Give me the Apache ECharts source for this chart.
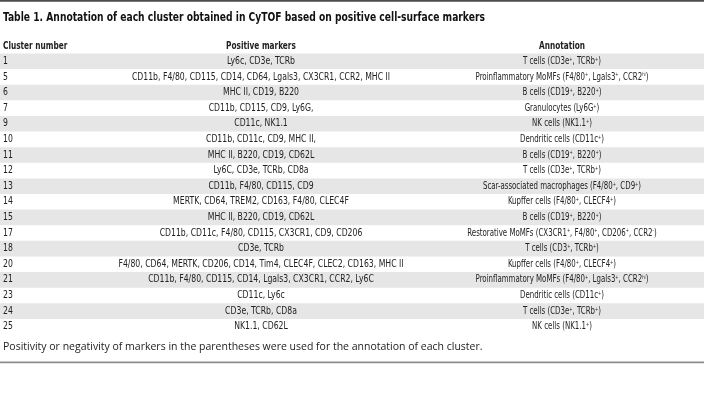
<!DOCTYPE html>
<html>
<head>
<meta charset="utf-8">
<script src="https://cdn.jsdelivr.net/npm/echarts@6/dist/echarts.min.js"></script>
<style>html,body{margin:0;padding:0;background:#fff}#c{width:704px;height:415px}</style>
</head>
<body>
<div id="c"></div>
<script>
const titleText = 'Table 1. Annotation of each cluster obtained in CyTOF based on positive cell-surface markers';
const headers = ['Cluster number', 'Positive markers', 'Annotation'];
const clusters = ['1','5','6','7','9','10','11','12','13','14','15','17','18','20','21','23','24','25'];
const markers = [
  'Ly6c, CD3e, TCRb',
  'CD11b, F4/80, CD115, CD14, CD64, Lgals3, CX3CR1, CCR2, MHC II',
  'MHC II, CD19, B220',
  'CD11b, CD115, CD9, Ly6G,',
  'CD11c, NK1.1',
  'CD11b, CD11c, CD9, MHC II,',
  'MHC II, B220, CD19, CD62L',
  'Ly6C, CD3e, TCRb, CD8a',
  'CD11b, F4/80, CD115, CD9',
  'MERTK, CD64, TREM2, CD163, F4/80, CLEC4F',
  'MHC II, B220, CD19, CD62L',
  'CD11b, CD11c, F4/80, CD115, CX3CR1, CD9, CD206',
  'CD3e, TCRb',
  'F4/80, CD64, MERTK, CD206, CD14, Tim4, CLEC4F, CLEC2, CD163, MHC II',
  'CD11b, F4/80, CD115, CD14, Lgals3, CX3CR1, CCR2, Ly6C',
  'CD11c, Ly6c',
  'CD3e, TCRb, CD8a',
  'NK1.1, CD62L'
];
const annotations = [
  'T cells (CD3e{s|+}, TCRb{s|+})',
  'Proinflammatory MoMFs (F4/80{s|+}, Lgals3{s|+}, CCR2{s|hi})',
  'B cells (CD19{s|+}, B220{s|+})',
  'Granulocytes (Ly6G{s|+})',
  'NK cells (NK1.1{s|+})',
  'Dendritic cells (CD11c{s|+})',
  'B cells (CD19{s|+}, B220{s|+})',
  'T cells (CD3e{s|+}, TCRb{s|+})',
  'Scar-associated macrophages (F4/80{s|+}, CD9{s|+})',
  'Kupffer cells (F4/80{s|+}, CLECF4{s|+})',
  'B cells (CD19{s|+}, B220{s|+})',
  'Restorative MoMFs (CX3CR1{s|+}, F4/80{s|+}, CD206{s|+}, CCR2{s|-})',
  'T cells (CD3{s|+}, TCRb{s|+})',
  'Kupffer cells (F4/80{s|+}, CLECF4{s|+})',
  'Proinflammatory MoMFs (F4/80{s|+}, Lgals3{s|+}, CCR2{s|hi})',
  'Dendritic cells (CD11c{s|+})',
  'T cells (CD3e{s|+}, TCRb{s|+})',
  'NK cells (NK1.1{s|+})'
];
const footnote = 'Positivity or negativity of markers in the parentheses were used for the annotation of each cluster.';

const W = 704;
const COL_NUM_X = 3, COL_MARK_X = 261, COL_ANN_X = 562;
const NARROW = '"Liberation Sans Narrow", "DejaVu Sans Condensed", "Arial Narrow", sans-serif';
const SX_MARK = 0.86, SX_ANN = 0.78, SX_HEAD = 0.78, SX_TITLE = 0.815;
const BODY_COLOR = '#222';

const bandData = clusters.map((c, i) => (i % 2 === 0 ? W : '-'));
const textData = clusters.map((c, i) => [0, i]);

function txt(x, y, text, align, sx) {
  return {
    type: 'text', x: x, y: y, scaleX: sx, z2: 10,
    style: {
      text: text, x: 0, y: 0,
      fill: BODY_COLOR,
      font: '10px ' + NARROW,
      align: align, textAlign: align,
      verticalAlign: 'middle', textVerticalAlign: 'middle',
      rich: { s: { fontSize: 5.5, verticalAlign: 'top', fill: BODY_COLOR, fontFamily: NARROW } }
    }
  };
}

const chart = echarts.init(document.getElementById('c'), null, { renderer: 'canvas' });
chart.setOption({
  animation: false,
  backgroundColor: '#fff',
  grid: { left: 0, right: 0, top: 53.5, height: 281, containLabel: false },
  xAxis: { type: 'value', min: 0, max: W, show: false },
  yAxis: { type: 'category', data: clusters, inverse: true, show: false },
  graphic: [
    { type: 'rect', shape: { x: 0, y: 0, width: W, height: 1.8 }, style: { fill: '#4d4d4d' } },
    { type: 'rect', shape: { x: 0, y: 361.5, width: W, height: 1.8 }, style: { fill: '#8c8c8c' } },
    { type: 'text', x: 3, y: 17.5, scaleX: SX_TITLE,
      style: { text: titleText, font: 'bold 12.5px ' + NARROW, fill: '#111', textAlign: 'left', textVerticalAlign: 'middle' } },
    { type: 'text', x: COL_NUM_X, y: 46, scaleX: SX_HEAD,
      style: { text: headers[0], font: 'bold 10.5px ' + NARROW, fill: '#222', textAlign: 'left', textVerticalAlign: 'middle' } },
    { type: 'text', x: COL_MARK_X, y: 46, scaleX: SX_HEAD,
      style: { text: headers[1], font: 'bold 10.5px ' + NARROW, fill: '#222', textAlign: 'center', textVerticalAlign: 'middle' } },
    { type: 'text', x: COL_ANN_X, y: 46, scaleX: SX_HEAD,
      style: { text: headers[2], font: 'bold 10.5px ' + NARROW, fill: '#222', textAlign: 'center', textVerticalAlign: 'middle' } },
    { type: 'text', x: 3, y: 347.5,
      style: { text: footnote, font: '10.5px "Open Sans", "Noto Sans", sans-serif', fill: '#222', textAlign: 'left', textVerticalAlign: 'middle' } }
  ],
  series: [
    {
      type: 'bar', data: bandData, barCategoryGap: '0%', barWidth: '100%', z: 1,
      itemStyle: { color: '#e6e6e6' }, silent: true
    },
    {
      type: 'custom', data: textData, silent: true, z: 5,
      renderItem: function (params, api) {
        const i = api.value(1);
        const y = api.coord([0, i])[1];
        const xm = api.coord([COL_MARK_X, i])[0];
        const xa = api.coord([COL_ANN_X, i])[0];
        const xn = api.coord([COL_NUM_X, i])[0];
        return {
          type: 'group',
          children: [
            txt(xn, y, clusters[i], 'left', SX_MARK),
            txt(xm, y, markers[i], 'center', SX_MARK),
            txt(xa, y, annotations[i], 'center', SX_ANN)
          ]
        };
      }
    }
  ]
});
</script>
</body>
</html>
